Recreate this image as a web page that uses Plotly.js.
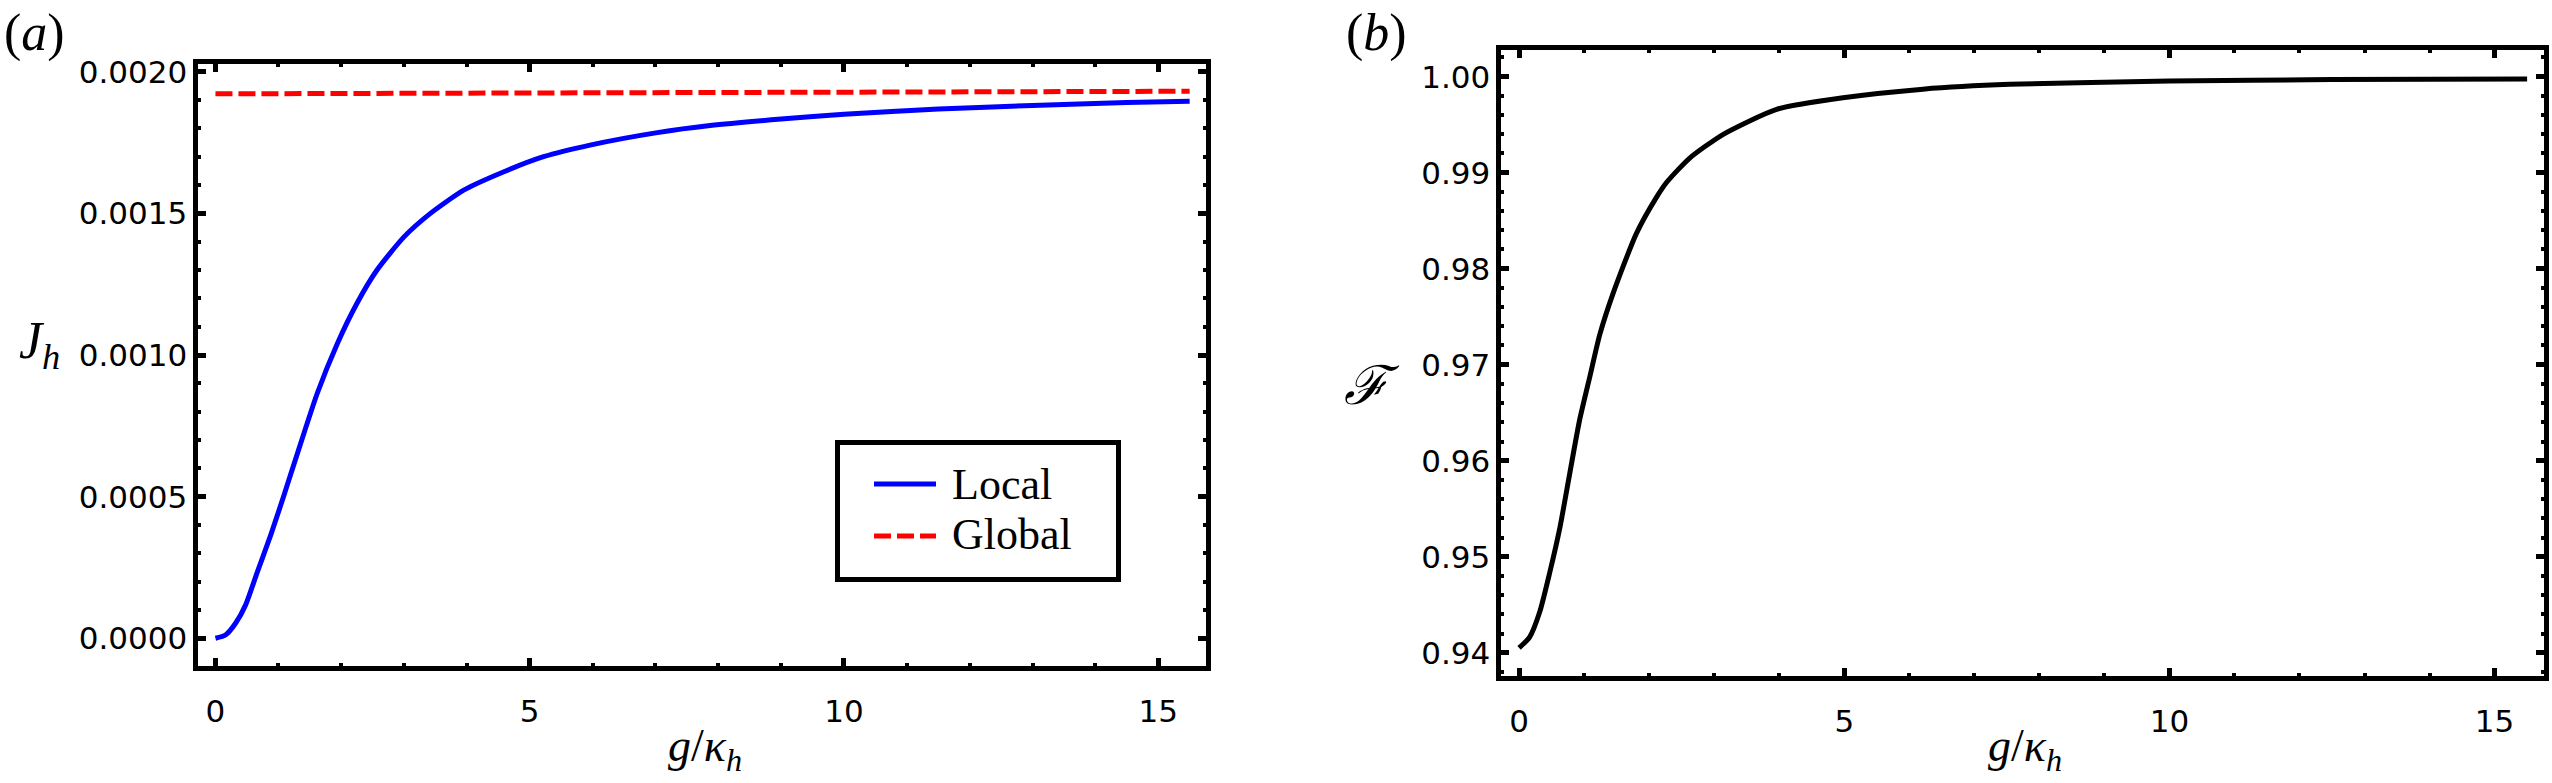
<!DOCTYPE html>
<html>
<head>
<meta charset="utf-8">
<script src="https://cdn.plot.ly/plotly-3.0.1.min.js"></script>
<style>
  html, body { margin: 0; padding: 0; background: #fff; }
  #plot { width: 2552px; height: 783px; }
</style>
</head>
<body>
<div id="plot"></div>
<script>
// panel (a): heat current J_h vs g/kappa_h
var localX = [0, 0.16, 0.32, 0.48, 0.66, 0.88, 1.09, 1.30, 1.62, 1.94, 2.25, 2.57, 3.00, 3.42, 3.95, 4.59, 5.22, 5.96, 7.03, 7.87, 9.0, 10.0, 11.5, 13.0, 14.5, 15.5];
var localJ = [0, 0.0000116, 0.000053, 0.000118, 0.00023, 0.000365, 0.000505, 0.00065, 0.000865, 0.001041, 0.001182, 0.0013, 0.001417, 0.0015, 0.001582, 0.001647, 0.0017, 0.001741, 0.001785, 0.001810, 0.001833, 0.001850, 0.001868, 0.001881, 0.001891, 0.001896];
var globalX = [0, 4, 8, 12, 15.5];
var globalJ = [0.001922, 0.001924, 0.001926, 0.001929, 0.001931];

// panel (b): fidelity F vs g/kappa_h
var fidX = [0, 0.16, 0.32, 0.47, 0.63, 0.78, 0.93, 1.09, 1.24, 1.45, 1.8, 2.11, 2.27, 2.62, 3.14, 3.96, 4.98, 6.21, 7.54, 10, 12.5, 15.5];
var fidF = [0.9405, 0.9416, 0.9443, 0.9483, 0.9531, 0.9587, 0.9642, 0.9688, 0.9731, 0.9775, 0.9836, 0.9874, 0.9890, 0.9915, 0.9940, 0.9966, 0.9978, 0.9987, 0.9992, 0.99955, 0.9997, 0.99976];

var legendNames = ["Local", "Global"];

var tickFont = {family: "DejaVu Sans", size: 31, color: "black"};
var serif = "Liberation Serif";

// px helpers for paper coords
function px(x) { return x / 2552; }
function py(y) { return 1 - y / 783; }

function frameAxis(extra) {
    var ax = {
        ticks: "inside",
        ticklen: 8,
        tickwidth: 5,
        tickcolor: "black",
        showline: true,
        linewidth: 5,
        linecolor: "black",
        mirror: "allticks",
        showgrid: false,
        zeroline: false,
        tickfont: tickFont,
        fixedrange: true
    };
    for (var k in extra) ax[k] = extra[k];
    return ax;
}

var trace1 = {
    x: localX,
    y: localJ,
    type: "scatter",
    mode: "lines",
    name: legendNames[0],
    line: {color: "#0000ff", width: 5, shape: "spline", smoothing: 0.6},
    xaxis: "x",
    yaxis: "y"
};
var trace2 = {
    x: globalX,
    y: globalJ,
    type: "scatter",
    mode: "lines",
    name: legendNames[1],
    line: {color: "#ff0000", width: 5, dash: "17px,6px"},
    xaxis: "x",
    yaxis: "y"
};
var trace3 = {
    x: fidX,
    y: fidF,
    type: "scatter",
    mode: "lines",
    name: "F",
    line: {color: "black", width: 5, shape: "spline", smoothing: 0.6},
    xaxis: "x2",
    yaxis: "y2"
};

var minorX = {dtick: 1, ticks: "inside", ticklen: 3, tickwidth: 4, tickcolor: "black"};

// legend box drawn by hand so the swatches get Mathematica's length
var shapes = [
    {type: "rect", xref: "paper", yref: "paper", x0: px(837.5), x1: px(1118.5), y0: py(442.5), y1: py(579.5),
     line: {color: "black", width: 5}, fillcolor: "white", layer: "above"},
    {type: "line", xref: "paper", yref: "paper", x0: px(874), x1: px(936), y0: py(484), y1: py(484),
     line: {color: trace1.line.color, width: 5}, layer: "above"},
    {type: "line", xref: "paper", yref: "paper", x0: px(874), x1: px(936), y0: py(536), y1: py(536),
     line: {color: trace2.line.color, width: 5, dash: "17px,6px"}, layer: "above"}
];

function label(text, x, y, size, xanchor) {
    return {text: text, x: px(x), y: py(y), xanchor: xanchor || "center", yanchor: "middle",
            xref: "paper", yref: "paper", showarrow: false, borderpad: 0,
            font: {family: serif, size: size, color: "black"}};
}

var layout = {
    width: 2552,
    height: 783,
    margin: {l: 0, r: 0, t: 0, b: 0},
    paper_bgcolor: "white",
    plot_bgcolor: "white",
    showlegend: false,
    xaxis: frameAxis({
        domain: [0.07778, 0.47257], anchor: "y",
        range: [-0.27, 15.76], tick0: 0, dtick: 5, ticklabelstandoff: 14,
        minor: minorX
    }),
    yaxis: frameAxis({
        domain: [0.14943, 0.91890], anchor: "x",
        range: [-0.0000978, 0.002029], tick0: 0, dtick: 0.0005, tickformat: ".4f",
        minor: {dtick: 0.0001, ticks: "inside", ticklen: 3, tickwidth: 4, tickcolor: "black"}
    }),
    xaxis2: frameAxis({
        domain: [0.58836, 0.99687], anchor: "y2",
        range: [-0.27, 15.76], tick0: 0, dtick: 5, ticklabelstandoff: 14,
        minor: minorX
    }),
    yaxis2: frameAxis({
        domain: [0.13729, 0.93614], anchor: "x2",
        range: [0.937625, 1.00278], tick0: 0, dtick: 0.01, tickformat: ".2f",
        minor: {dtick: 0.002, ticks: "inside", ticklen: 3, tickwidth: 4, tickcolor: "black"}
    }),
    shapes: shapes,
    annotations: [
        label(legendNames[0], 951, 484, 44, "left"),
        label(legendNames[1], 951, 534, 44, "left"),
        label("(<i>a</i>)", 3, 33, 52, "left"),
        label("(<i>b</i>)", 1345, 33, 52, "left"),
        label("<i>J</i><sub><i>h</i></sub>", 18, 345, 52, "left"),
        label("<i>ℱ</i>", 1372, 386, 54),
        label("<i>g</i>/<i>κ</i><sub><i>h</i></sub>", 705, 749, 46),
        label("<i>g</i>/<i>κ</i><sub><i>h</i></sub>", 2025, 749, 46)
    ]
};

Plotly.newPlot("plot", [trace1, trace2, trace3], layout, {displayModeBar: false, staticPlot: true});
</script>
</body>
</html>
